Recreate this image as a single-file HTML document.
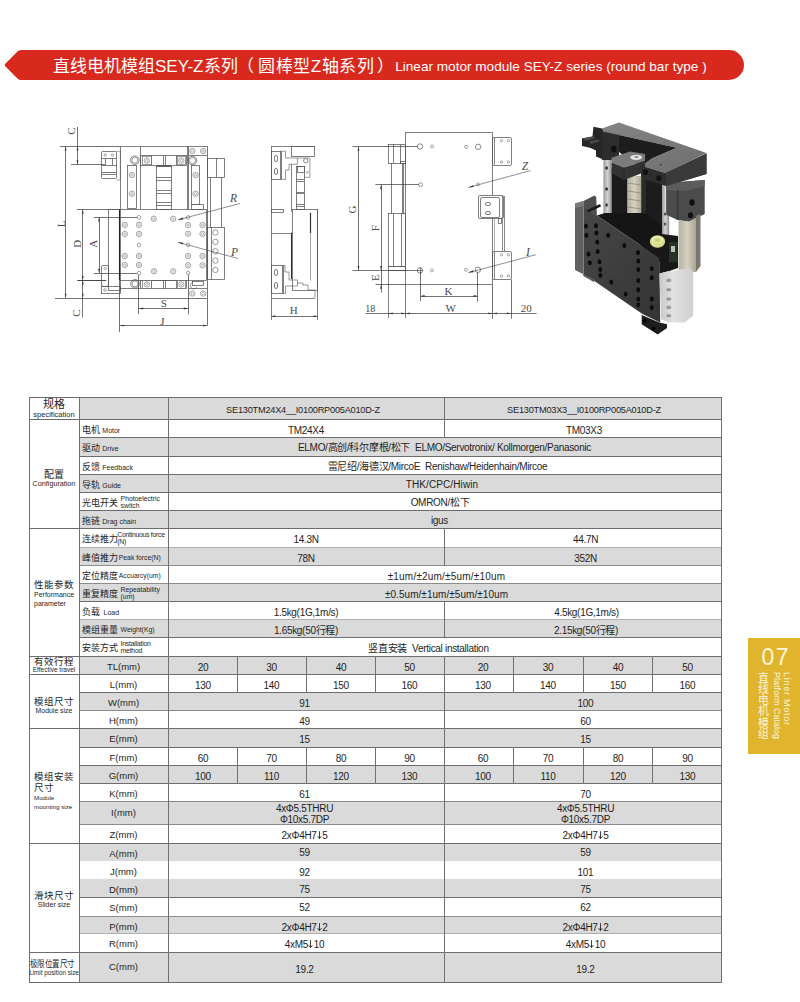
<!DOCTYPE html>
<html lang="zh-CN"><head><meta charset="utf-8"><title>SEY-Z</title>
<style>
html,body{margin:0;padding:0}
body{width:800px;height:1002px;overflow:hidden;background:#fff;position:relative;font-family:"Liberation Sans",sans-serif;color:#1e1e1e}
.a{position:absolute;white-space:nowrap}
.c{text-align:center}
.s{font-family:"Liberation Serif",serif}
</style></head><body>
<svg class="a" style="left:0;top:0" width="800" height="100" viewBox="0 0 800 100">
<path d="M21,50 H729 A15,15 0 0 1 729,80 H21 Q19,80 17.5,78.5 L5.5,66.5 Q4,65 5.5,63.5 L17.5,51.5 Q19,50 21,50 Z" fill="#d9281d"/>
</svg>
<div class="a" style="left:53px;top:56.5px;font-size:17px;line-height:20px;color:#fff">直线电机模组SEY-Z系列<span style="margin-left:-0.75px">（</span><span style="margin-left:4.25px;letter-spacing:0.55px">圆棒型Z轴系列</span><span style="margin-left:3px">）</span></div>
<div class="a" style="left:395.2px;top:59.3px;font-size:13.6px;line-height:16px;color:#fff">Linear motor module SEY-Z series (round bar type )</div>
<svg class="a" style="left:0;top:0" width="560" height="340" viewBox="0 0 560 340">
<line x1="77.5" y1="127" x2="77.5" y2="164.4" stroke="#444" stroke-width="0.75"/>
<polygon points="77.5,146.5 78.40,150.50 76.60,150.50" fill="#333"/>
<polygon points="77.5,164.2 76.60,160.20 78.40,160.20" fill="#333"/>
<line x1="60" y1="146.5" x2="120.6" y2="146.5" stroke="#444" stroke-width="0.75"/>
<line x1="71" y1="164.5" x2="105" y2="164.5" stroke="#444" stroke-width="0.75"/>
<line x1="65.5" y1="146.3" x2="65.5" y2="298.1" stroke="#444" stroke-width="0.75"/>
<polygon points="65.6,146.6 66.50,150.60 64.70,150.60" fill="#333"/>
<polygon points="65.6,297.8 64.70,293.80 66.50,293.80" fill="#333"/>
<line x1="82.5" y1="209.4" x2="82.5" y2="317.5" stroke="#444" stroke-width="0.75"/>
<polygon points="82.8,209.7 83.70,213.70 81.90,213.70" fill="#333"/>
<polygon points="82.8,280 81.90,276.00 83.70,276.00" fill="#333"/>
<polygon points="82.8,280.5 83.70,284.50 81.90,284.50" fill="#333"/>
<polygon points="82.8,297.8 81.90,293.80 83.70,293.80" fill="#333"/>
<line x1="76.9" y1="209.5" x2="108.8" y2="209.5" stroke="#444" stroke-width="0.75"/>
<line x1="77.2" y1="280.5" x2="106.3" y2="280.5" stroke="#333" stroke-width="0.9"/>
<line x1="99.5" y1="217.3" x2="99.5" y2="273.1" stroke="#444" stroke-width="0.75"/>
<polygon points="99,217.6 99.90,221.60 98.10,221.60" fill="#333"/>
<polygon points="99,272.8 98.10,268.80 99.90,268.80" fill="#333"/>
<line x1="93.8" y1="217.5" x2="137" y2="217.5" stroke="#444" stroke-width="0.75"/>
<line x1="93.8" y1="273.5" x2="137" y2="273.5" stroke="#444" stroke-width="0.75"/>
<line x1="55" y1="298.5" x2="207.3" y2="298.5" stroke="#444" stroke-width="0.75"/>
<line x1="119.5" y1="280" x2="119.5" y2="331.9" stroke="#444" stroke-width="0.75"/>
<line x1="207.5" y1="146.3" x2="207.5" y2="325.5" stroke="#444" stroke-width="0.75"/>
<line x1="119.8" y1="325.5" x2="207.3" y2="325.5" stroke="#444" stroke-width="0.75"/>
<polygon points="120.1,325.6 124.10,324.70 124.10,326.50" fill="#333"/>
<polygon points="207,325.6 203.00,326.50 203.00,324.70" fill="#333"/>
<line x1="138.5" y1="275" x2="138.5" y2="313.8" stroke="#444" stroke-width="0.75"/>
<line x1="188.5" y1="274.8" x2="188.5" y2="314.4" stroke="#444" stroke-width="0.75"/>
<line x1="138.8" y1="308.5" x2="188.1" y2="308.5" stroke="#444" stroke-width="0.75"/>
<polygon points="139.1,308.5 143.10,307.60 143.10,309.40" fill="#333"/>
<polygon points="187.8,308.5 183.80,309.40 183.80,307.60" fill="#333"/>
<text x="70.6" y="131" font-family="Liberation Serif, serif" font-size="11" fill="#4a4a4a" text-anchor="middle" dominant-baseline="central" style="" transform="rotate(-90 70.6 131)">C</text>
<text x="60.6" y="223.8" font-family="Liberation Serif, serif" font-size="11" fill="#4a4a4a" text-anchor="middle" dominant-baseline="central" style="" transform="rotate(-90 60.6 223.8)">L</text>
<text x="76.9" y="243.8" font-family="Liberation Serif, serif" font-size="11" fill="#4a4a4a" text-anchor="middle" dominant-baseline="central" style="" transform="rotate(-90 76.9 243.8)">D</text>
<text x="93.1" y="243.8" font-family="Liberation Serif, serif" font-size="11" fill="#4a4a4a" text-anchor="middle" dominant-baseline="central" style="" transform="rotate(-90 93.1 243.8)">A</text>
<text x="76.3" y="313.1" font-family="Liberation Serif, serif" font-size="11" fill="#4a4a4a" text-anchor="middle" dominant-baseline="central" style="" transform="rotate(-90 76.3 313.1)">C</text>
<text x="163.8" y="303.3" font-family="Liberation Serif, serif" font-size="11" fill="#4a4a4a" text-anchor="middle" dominant-baseline="central" style="">S</text>
<text x="162.5" y="320.5" font-family="Liberation Serif, serif" font-size="11" fill="#4a4a4a" text-anchor="middle" dominant-baseline="central" style="">J</text>
<text x="233.6" y="197.6" font-family="Liberation Serif, serif" font-size="11.5" fill="#4a4a4a" text-anchor="middle" dominant-baseline="central" style="font-style:italic;">R</text>
<text x="234.4" y="251.6" font-family="Liberation Serif, serif" font-size="11.5" fill="#4a4a4a" text-anchor="middle" dominant-baseline="central" style="font-style:italic;">P</text>
<line x1="178.1" y1="219.8" x2="240" y2="203.5" stroke="#444" stroke-width="0.6"/>
<polygon points="178.1,219.8 182.68,217.56 183.19,219.50" fill="#333"/>
<line x1="178.1" y1="242.3" x2="238.1" y2="258.5" stroke="#444" stroke-width="0.6"/>
<polygon points="178.1,242.3 183.19,242.64 182.67,244.57" fill="#333"/>
<line x1="120.6" y1="146.5" x2="207.3" y2="146.5" stroke="#555" stroke-width="0.75"/>
<line x1="120.5" y1="146.3" x2="120.5" y2="209.4" stroke="#555" stroke-width="0.75"/>
<line x1="140.5" y1="146.3" x2="140.5" y2="209.4" stroke="#555" stroke-width="0.75"/>
<line x1="187.5" y1="146.3" x2="187.5" y2="209.4" stroke="#555" stroke-width="0.75"/>
<line x1="188.5" y1="146.3" x2="188.5" y2="209.4" stroke="#555" stroke-width="0.75"/>
<line x1="188" y1="155.5" x2="207.3" y2="155.5" stroke="#555" stroke-width="0.75"/>
<circle cx="192.3" cy="151" r="2.7" fill="none" stroke="#6a6a6a" stroke-width="0.6"/>
<circle cx="192.3" cy="151" r="1.15" fill="none" stroke="#7a7a7a" stroke-width="0.5"/>
<circle cx="203.1" cy="151" r="2.7" fill="none" stroke="#6a6a6a" stroke-width="0.6"/>
<circle cx="203.1" cy="151" r="1.15" fill="none" stroke="#7a7a7a" stroke-width="0.5"/>
<rect x="140.5" y="155.5" width="46.00" height="10.00" rx="0" fill="none" stroke="#555" stroke-width="0.75"/>
<line x1="151.5" y1="155.6" x2="151.5" y2="165.6" stroke="#555" stroke-width="0.75"/>
<line x1="163.5" y1="155.6" x2="163.5" y2="165.6" stroke="#555" stroke-width="0.75"/>
<line x1="165.5" y1="155.6" x2="165.5" y2="165.6" stroke="#555" stroke-width="0.75"/>
<line x1="176.5" y1="155.6" x2="176.5" y2="165.6" stroke="#555" stroke-width="0.75"/>
<rect x="142.5" y="156.5" width="9.00" height="8.00" rx="0" fill="none" stroke="#777" stroke-width="0.75"/>
<circle cx="146.9" cy="160.6" r="2.7" fill="none" stroke="#6a6a6a" stroke-width="0.6"/>
<circle cx="146.9" cy="160.6" r="1.15" fill="none" stroke="#7a7a7a" stroke-width="0.5"/>
<rect x="177.5" y="156.5" width="8.00" height="8.00" rx="0" fill="none" stroke="#777" stroke-width="0.75"/>
<circle cx="181.3" cy="160.6" r="2.7" fill="none" stroke="#6a6a6a" stroke-width="0.6"/>
<circle cx="181.3" cy="160.6" r="1.15" fill="none" stroke="#7a7a7a" stroke-width="0.5"/>
<circle cx="134.8" cy="160.2" r="4.3" fill="none" stroke="#555" stroke-width="0.7"/>
<circle cx="134.8" cy="160.2" r="3" fill="none" stroke="#555" stroke-width="0.6"/>
<circle cx="192.5" cy="160.6" r="4.3" fill="none" stroke="#555" stroke-width="0.7"/>
<circle cx="192.5" cy="160.6" r="3" fill="none" stroke="#555" stroke-width="0.6"/>
<rect x="127.5" y="165.5" width="9.00" height="43.00" rx="0" fill="none" stroke="#555" stroke-width="0.75"/>
<circle cx="131.9" cy="175" r="2.7" fill="none" stroke="#6a6a6a" stroke-width="0.6"/>
<circle cx="131.9" cy="175" r="1.15" fill="none" stroke="#7a7a7a" stroke-width="0.5"/>
<circle cx="131.9" cy="193.8" r="2.7" fill="none" stroke="#6a6a6a" stroke-width="0.6"/>
<circle cx="131.9" cy="193.8" r="1.15" fill="none" stroke="#7a7a7a" stroke-width="0.5"/>
<rect x="191.5" y="165.5" width="8.00" height="39.00" rx="0" fill="none" stroke="#555" stroke-width="0.75"/>
<rect x="191.5" y="204.5" width="12.00" height="5.00" rx="0" fill="none" stroke="#555" stroke-width="0.75"/>
<circle cx="195.6" cy="175" r="2.7" fill="none" stroke="#6a6a6a" stroke-width="0.6"/>
<circle cx="195.6" cy="175" r="1.15" fill="none" stroke="#7a7a7a" stroke-width="0.5"/>
<circle cx="195.6" cy="193.8" r="2.7" fill="none" stroke="#6a6a6a" stroke-width="0.6"/>
<circle cx="195.6" cy="193.8" r="1.15" fill="none" stroke="#7a7a7a" stroke-width="0.5"/>
<rect x="156.5" y="166.5" width="15.00" height="43.00" rx="0" fill="none" stroke="#555" stroke-width="0.75"/>
<rect x="157.5" y="165.5" width="13.00" height="1.00" rx="0" fill="none" stroke="#555" stroke-width="0.75"/>
<line x1="156.3" y1="177.5" x2="171.5" y2="177.5" stroke="#555" stroke-width="0.75"/>
<line x1="156.3" y1="180.5" x2="171.5" y2="180.5" stroke="#555" stroke-width="0.75"/>
<line x1="156.3" y1="190.5" x2="171.5" y2="190.5" stroke="#555" stroke-width="0.75"/>
<line x1="156.3" y1="193.5" x2="171.5" y2="193.5" stroke="#555" stroke-width="0.75"/>
<line x1="156.3" y1="202.5" x2="171.5" y2="202.5" stroke="#555" stroke-width="0.75"/>
<line x1="156.3" y1="205.5" x2="171.5" y2="205.5" stroke="#555" stroke-width="0.75"/>
<rect x="101.5" y="151.5" width="15.00" height="27.00" rx="1" fill="none" stroke="#555" stroke-width="0.75"/>
<circle cx="105.2" cy="155" r="1.2" fill="none" stroke="#555" stroke-width="0.5"/>
<circle cx="112.4" cy="155" r="1.2" fill="none" stroke="#555" stroke-width="0.5"/>
<line x1="101.9" y1="158.5" x2="116.3" y2="158.5" stroke="#555" stroke-width="0.75"/>
<line x1="105.5" y1="158.5" x2="105.5" y2="165" stroke="#555" stroke-width="0.75"/>
<line x1="112.5" y1="158.5" x2="112.5" y2="165" stroke="#555" stroke-width="0.75"/>
<line x1="101.9" y1="165.5" x2="116.3" y2="165.5" stroke="#555" stroke-width="0.75"/>
<line x1="101.9" y1="172.5" x2="116.3" y2="172.5" stroke="#666" stroke-width="0.9"/>
<line x1="101.9" y1="174.5" x2="116.3" y2="174.5" stroke="#555" stroke-width="0.75"/>
<polyline points="116.3,151.3 120.3,151.3 120.3,180 116.3,180" fill="none" stroke="#555" stroke-width="0.5"/>
<rect x="207.5" y="158.5" width="17.00" height="19.00" rx="0" fill="none" stroke="#555" stroke-width="0.75"/>
<line x1="216.5" y1="158" x2="216.5" y2="177.5" stroke="#555" stroke-width="0.75"/>
<line x1="210.5" y1="177.5" x2="210.5" y2="227.5" stroke="#555" stroke-width="0.75"/>
<line x1="221.5" y1="177.5" x2="221.5" y2="227.5" stroke="#555" stroke-width="0.75"/>
<rect x="207.5" y="227.5" width="17.00" height="52.00" rx="0" fill="none" stroke="#555" stroke-width="0.75"/>
<line x1="211.5" y1="227" x2="211.5" y2="279.4" stroke="#555" stroke-width="0.75"/>
<circle cx="215.4" cy="232.5" r="2.7" fill="none" stroke="#555" stroke-width="0.6"/>
<circle cx="215.4" cy="241.9" r="2.7" fill="none" stroke="#555" stroke-width="0.6"/>
<circle cx="215.4" cy="251.3" r="2.7" fill="none" stroke="#555" stroke-width="0.6"/>
<circle cx="215.4" cy="260.6" r="2.7" fill="none" stroke="#555" stroke-width="0.6"/>
<circle cx="215.4" cy="270" r="2.7" fill="none" stroke="#555" stroke-width="0.6"/>
<line x1="108.8" y1="209.5" x2="206.3" y2="209.5" stroke="#555" stroke-width="0.75"/>
<line x1="206.5" y1="209.4" x2="206.5" y2="280.3" stroke="#555" stroke-width="0.75"/>
<line x1="119.5" y1="209.4" x2="119.5" y2="280" stroke="#222" stroke-width="1.1"/>
<rect x="108.5" y="209.5" width="12.00" height="81.00" rx="0" fill="none" stroke="#555" stroke-width="0.75"/>
<line x1="120" y1="280.5" x2="206.3" y2="280.5" stroke="#555" stroke-width="0.75"/>
<circle cx="124.8" cy="224.8" r="2.7" fill="none" stroke="#6a6a6a" stroke-width="0.6"/>
<circle cx="124.8" cy="224.8" r="1.15" fill="none" stroke="#7a7a7a" stroke-width="0.5"/>
<circle cx="139" cy="224.8" r="2.7" fill="none" stroke="#6a6a6a" stroke-width="0.6"/>
<circle cx="139" cy="224.8" r="1.15" fill="none" stroke="#7a7a7a" stroke-width="0.5"/>
<circle cx="124.8" cy="234" r="2.7" fill="none" stroke="#6a6a6a" stroke-width="0.6"/>
<circle cx="124.8" cy="234" r="1.15" fill="none" stroke="#7a7a7a" stroke-width="0.5"/>
<circle cx="139" cy="234" r="2.7" fill="none" stroke="#6a6a6a" stroke-width="0.6"/>
<circle cx="139" cy="234" r="1.15" fill="none" stroke="#7a7a7a" stroke-width="0.5"/>
<circle cx="124.8" cy="256" r="2.7" fill="none" stroke="#6a6a6a" stroke-width="0.6"/>
<circle cx="124.8" cy="256" r="1.15" fill="none" stroke="#7a7a7a" stroke-width="0.5"/>
<circle cx="139" cy="256" r="2.7" fill="none" stroke="#6a6a6a" stroke-width="0.6"/>
<circle cx="139" cy="256" r="1.15" fill="none" stroke="#7a7a7a" stroke-width="0.5"/>
<circle cx="124.8" cy="265" r="2.7" fill="none" stroke="#6a6a6a" stroke-width="0.6"/>
<circle cx="124.8" cy="265" r="1.15" fill="none" stroke="#7a7a7a" stroke-width="0.5"/>
<circle cx="139" cy="265" r="2.7" fill="none" stroke="#6a6a6a" stroke-width="0.6"/>
<circle cx="139" cy="265" r="1.15" fill="none" stroke="#7a7a7a" stroke-width="0.5"/>
<circle cx="153.8" cy="218.8" r="2.7" fill="none" stroke="#6a6a6a" stroke-width="0.6"/>
<circle cx="153.8" cy="218.8" r="1.15" fill="none" stroke="#7a7a7a" stroke-width="0.5"/>
<circle cx="173.1" cy="218.8" r="2.7" fill="none" stroke="#6a6a6a" stroke-width="0.6"/>
<circle cx="173.1" cy="218.8" r="1.15" fill="none" stroke="#7a7a7a" stroke-width="0.5"/>
<circle cx="188.1" cy="225" r="2.7" fill="none" stroke="#6a6a6a" stroke-width="0.6"/>
<circle cx="188.1" cy="225" r="1.15" fill="none" stroke="#7a7a7a" stroke-width="0.5"/>
<circle cx="202.5" cy="225" r="2.7" fill="none" stroke="#6a6a6a" stroke-width="0.6"/>
<circle cx="202.5" cy="225" r="1.15" fill="none" stroke="#7a7a7a" stroke-width="0.5"/>
<circle cx="188.1" cy="233.8" r="2.7" fill="none" stroke="#6a6a6a" stroke-width="0.6"/>
<circle cx="188.1" cy="233.8" r="1.15" fill="none" stroke="#7a7a7a" stroke-width="0.5"/>
<circle cx="202.5" cy="233.8" r="2.7" fill="none" stroke="#6a6a6a" stroke-width="0.6"/>
<circle cx="202.5" cy="233.8" r="1.15" fill="none" stroke="#7a7a7a" stroke-width="0.5"/>
<circle cx="188.1" cy="256" r="2.7" fill="none" stroke="#6a6a6a" stroke-width="0.6"/>
<circle cx="188.1" cy="256" r="1.15" fill="none" stroke="#7a7a7a" stroke-width="0.5"/>
<circle cx="202.5" cy="256" r="2.7" fill="none" stroke="#6a6a6a" stroke-width="0.6"/>
<circle cx="202.5" cy="256" r="1.15" fill="none" stroke="#7a7a7a" stroke-width="0.5"/>
<circle cx="188.1" cy="265.3" r="2.7" fill="none" stroke="#6a6a6a" stroke-width="0.6"/>
<circle cx="188.1" cy="265.3" r="1.15" fill="none" stroke="#7a7a7a" stroke-width="0.5"/>
<circle cx="202.5" cy="265.3" r="2.7" fill="none" stroke="#6a6a6a" stroke-width="0.6"/>
<circle cx="202.5" cy="265.3" r="1.15" fill="none" stroke="#7a7a7a" stroke-width="0.5"/>
<circle cx="154" cy="271.3" r="2.7" fill="none" stroke="#6a6a6a" stroke-width="0.6"/>
<circle cx="154" cy="271.3" r="1.15" fill="none" stroke="#7a7a7a" stroke-width="0.5"/>
<circle cx="173.1" cy="271.3" r="2.7" fill="none" stroke="#6a6a6a" stroke-width="0.6"/>
<circle cx="173.1" cy="271.3" r="1.15" fill="none" stroke="#7a7a7a" stroke-width="0.5"/>
<circle cx="139" cy="217.3" r="1.8" fill="none" stroke="#666" stroke-width="0.6"/>
<circle cx="139" cy="245" r="1.8" fill="none" stroke="#666" stroke-width="0.6"/>
<circle cx="139" cy="273.1" r="1.8" fill="none" stroke="#666" stroke-width="0.6"/>
<circle cx="188.1" cy="217.3" r="1.8" fill="none" stroke="#666" stroke-width="0.6"/>
<circle cx="188.1" cy="245" r="1.8" fill="none" stroke="#666" stroke-width="0.6"/>
<circle cx="188.1" cy="272.9" r="1.8" fill="none" stroke="#666" stroke-width="0.6"/>
<rect x="140.5" y="280.5" width="46.00" height="8.00" rx="0" fill="none" stroke="#555" stroke-width="0.75"/>
<line x1="151.5" y1="280.3" x2="151.5" y2="288.8" stroke="#555" stroke-width="0.75"/>
<line x1="163.5" y1="280.3" x2="163.5" y2="288.8" stroke="#555" stroke-width="0.75"/>
<line x1="165.5" y1="280.3" x2="165.5" y2="288.8" stroke="#555" stroke-width="0.75"/>
<line x1="176.5" y1="280.3" x2="176.5" y2="288.8" stroke="#555" stroke-width="0.75"/>
<rect x="142.5" y="280.5" width="9.00" height="8.00" rx="0" fill="none" stroke="#777" stroke-width="0.75"/>
<circle cx="146.9" cy="284.4" r="2.7" fill="none" stroke="#6a6a6a" stroke-width="0.6"/>
<circle cx="146.9" cy="284.4" r="1.15" fill="none" stroke="#7a7a7a" stroke-width="0.5"/>
<rect x="177.5" y="280.5" width="8.00" height="8.00" rx="0" fill="none" stroke="#777" stroke-width="0.75"/>
<circle cx="181.3" cy="284.4" r="2.7" fill="none" stroke="#6a6a6a" stroke-width="0.6"/>
<circle cx="181.3" cy="284.4" r="1.15" fill="none" stroke="#7a7a7a" stroke-width="0.5"/>
<circle cx="135" cy="283.8" r="4.3" fill="none" stroke="#555" stroke-width="0.7"/>
<circle cx="135" cy="283.8" r="3" fill="none" stroke="#555" stroke-width="0.6"/>
<rect x="192.5" y="281.5" width="11.00" height="4.00" rx="0" fill="none" stroke="#555" stroke-width="0.75"/>
<path d="M193,282 a3.5,3.5 0 1 0 4,5" fill="none" stroke="#555" stroke-width="0.6"/>
<line x1="188" y1="288.5" x2="207.3" y2="288.5" stroke="#555" stroke-width="0.75"/>
<circle cx="192.3" cy="293.5" r="2.7" fill="none" stroke="#6a6a6a" stroke-width="0.6"/>
<circle cx="192.3" cy="293.5" r="1.15" fill="none" stroke="#7a7a7a" stroke-width="0.5"/>
<circle cx="203.1" cy="293.5" r="2.7" fill="none" stroke="#6a6a6a" stroke-width="0.6"/>
<circle cx="203.1" cy="293.5" r="1.15" fill="none" stroke="#7a7a7a" stroke-width="0.5"/>
<rect x="101.5" y="286.5" width="19.00" height="7.00" rx="0" fill="none" stroke="#555" stroke-width="0.75"/>
<circle cx="105" cy="290" r="1.3" fill="none" stroke="#555" stroke-width="0.5"/>
<rect x="101.5" y="265.5" width="7.00" height="21.00" rx="1.5" fill="none" stroke="#555" stroke-width="0.75"/>
<circle cx="105.3" cy="268.5" r="1.2" fill="none" stroke="#555" stroke-width="0.5"/>
<line x1="120" y1="288.5" x2="140.6" y2="288.5" stroke="#555" stroke-width="0.75"/>
<line x1="271.5" y1="146.3" x2="271.5" y2="320" stroke="#555" stroke-width="0.75"/>
<line x1="271.2" y1="146.5" x2="314.8" y2="146.5" stroke="#555" stroke-width="0.75"/>
<rect x="291.5" y="146.5" width="23.00" height="10.00" rx="0" fill="none" stroke="#555" stroke-width="0.75"/>
<rect x="271.5" y="151.5" width="9.00" height="28.00" rx="0" fill="none" stroke="#555" stroke-width="0.75"/>
<rect x="274.5" y="155.5" width="3.00" height="6.00" rx="1.5" fill="none" stroke="#555" stroke-width="0.75"/>
<rect x="274.5" y="168.5" width="3.00" height="6.00" rx="1.5" fill="none" stroke="#555" stroke-width="0.75"/>
<polyline points="280.2,151.2 285.5,151.2 285.5,158 297.4,158 297.4,164.3 289,164.3 289,170 285.5,170 285.5,179.5 280.2,179.5" fill="none" stroke="#555" stroke-width="0.6"/>
<line x1="281.5" y1="151.2" x2="281.5" y2="179.5" stroke="#555" stroke-width="0.75"/>
<line x1="291.5" y1="164.3" x2="291.5" y2="211.9" stroke="#555" stroke-width="0.75"/>
<rect x="296.5" y="166.5" width="8.00" height="43.00" rx="0" fill="none" stroke="#555" stroke-width="0.75"/>
<line x1="296.4" y1="179.5" x2="304" y2="179.5" stroke="#555" stroke-width="0.75"/>
<line x1="296.4" y1="181.5" x2="304" y2="181.5" stroke="#555" stroke-width="0.75"/>
<line x1="296.4" y1="192.5" x2="304" y2="192.5" stroke="#555" stroke-width="0.75"/>
<line x1="296.4" y1="193.5" x2="304" y2="193.5" stroke="#555" stroke-width="0.75"/>
<line x1="296.4" y1="204.5" x2="304" y2="204.5" stroke="#555" stroke-width="0.75"/>
<line x1="296.4" y1="206.5" x2="304" y2="206.5" stroke="#555" stroke-width="0.75"/>
<polyline points="297.4,158 309.9,158 309.9,177.3 304,177.3" fill="none" stroke="#555" stroke-width="0.6"/>
<circle cx="305.8" cy="160.7" r="2.2" fill="none" stroke="#555" stroke-width="0.7"/>
<circle cx="307.4" cy="172.4" r="1" fill="none" stroke="#555" stroke-width="0.5"/>
<rect x="297.5" y="166.5" width="7.00" height="6.00" rx="0" fill="none" stroke="#555" stroke-width="0.75"/>
<rect x="292.5" y="209.5" width="25.00" height="81.00" rx="0" fill="none" stroke="#555" stroke-width="0.75"/>
<line x1="310.5" y1="212.8" x2="310.5" y2="233" stroke="#333" stroke-width="1.2"/>
<line x1="310.5" y1="233" x2="310.5" y2="280.5" stroke="#888" stroke-width="0.75"/>
<rect x="271.5" y="209.5" width="12.00" height="3.00" rx="0" fill="none" stroke="#555" stroke-width="0.75"/>
<line x1="291.5" y1="232.5" x2="291.5" y2="279" stroke="#333" stroke-width="1.1"/>
<line x1="271.2" y1="233.5" x2="291.8" y2="233.5" stroke="#555" stroke-width="0.75"/>
<rect x="271.5" y="265.5" width="11.00" height="28.00" rx="0" fill="none" stroke="#555" stroke-width="0.75"/>
<rect x="274.5" y="269.5" width="3.00" height="6.00" rx="1.5" fill="none" stroke="#555" stroke-width="0.75"/>
<rect x="274.5" y="282.5" width="3.00" height="6.00" rx="1.5" fill="none" stroke="#555" stroke-width="0.75"/>
<polyline points="282.2,265.5 285,265.5 285,272 289,272 289,280 297.5,280 297.5,286 285.5,286 285.5,293.5 282.2,293.5" fill="none" stroke="#555" stroke-width="0.6"/>
<line x1="283.5" y1="265.5" x2="283.5" y2="293.5" stroke="#555" stroke-width="0.75"/>
<polyline points="297.5,283 303,283 303,285 308,285 308,290 315,290 315,298.5" fill="none" stroke="#555" stroke-width="0.6"/>
<line x1="271.2" y1="298.5" x2="314.8" y2="298.5" stroke="#555" stroke-width="0.75"/>
<line x1="317.5" y1="209" x2="317.5" y2="320" stroke="#555" stroke-width="0.75"/>
<line x1="271.2" y1="316.5" x2="317.8" y2="316.5" stroke="#444" stroke-width="0.75"/>
<polygon points="271.5,316.2 275.50,315.30 275.50,317.10" fill="#333"/>
<polygon points="317.5,316.2 313.50,317.10 313.50,315.30" fill="#333"/>
<text x="293.8" y="310.3" font-family="Liberation Serif, serif" font-size="11" fill="#4a4a4a" text-anchor="middle" dominant-baseline="central" style="">H</text>
<rect x="405.5" y="132.5" width="87.00" height="152.00" rx="0" fill="none" stroke="#555" stroke-width="0.75"/>
<rect x="388.5" y="144.5" width="17.00" height="19.00" rx="0" fill="none" stroke="#555" stroke-width="0.75"/>
<line x1="393.5" y1="144.4" x2="393.5" y2="163.1" stroke="#555" stroke-width="0.75"/>
<line x1="400.5" y1="144.4" x2="400.5" y2="163.1" stroke="#555" stroke-width="0.75"/>
<rect x="400.5" y="161.5" width="5.00" height="2.00" rx="0" fill="none" stroke="#555" stroke-width="0.75"/>
<line x1="391.5" y1="163.1" x2="391.5" y2="213.8" stroke="#555" stroke-width="0.75"/>
<line x1="402.5" y1="163.1" x2="402.5" y2="213.8" stroke="#555" stroke-width="0.75"/>
<line x1="403.5" y1="163.1" x2="403.5" y2="213.8" stroke="#555" stroke-width="0.75"/>
<rect x="388.5" y="213.5" width="17.00" height="53.00" rx="0" fill="none" stroke="#555" stroke-width="0.75"/>
<line x1="393.5" y1="213.8" x2="393.5" y2="266.3" stroke="#555" stroke-width="0.75"/>
<line x1="401.5" y1="213.8" x2="401.5" y2="266.3" stroke="#555" stroke-width="0.75"/>
<rect x="388.5" y="266.5" width="17.00" height="4.00" rx="0" fill="none" stroke="#555" stroke-width="0.75"/>
<line x1="388.5" y1="270.4" x2="388.5" y2="318" stroke="#555" stroke-width="0.75"/>
<line x1="405.5" y1="284.3" x2="405.5" y2="318" stroke="#555" stroke-width="0.75"/>
<line x1="352.5" y1="146.5" x2="418" y2="146.5" stroke="#444" stroke-width="0.75"/>
<line x1="352.5" y1="270.5" x2="418" y2="270.5" stroke="#444" stroke-width="0.75"/>
<line x1="358.5" y1="146.5" x2="358.5" y2="270.4" stroke="#444" stroke-width="0.75"/>
<polygon points="358.5,146.8 359.40,150.80 357.60,150.80" fill="#333"/>
<polygon points="358.5,270.1 357.60,266.10 359.40,266.10" fill="#333"/>
<text x="351.9" y="209.4" font-family="Liberation Serif, serif" font-size="11" fill="#4a4a4a" text-anchor="middle" dominant-baseline="central" style="" transform="rotate(-90 351.9 209.4)">G</text>
<line x1="375.4" y1="184.5" x2="419" y2="184.5" stroke="#444" stroke-width="0.75"/>
<line x1="381.5" y1="184.6" x2="381.5" y2="292.5" stroke="#444" stroke-width="0.75"/>
<polygon points="381,184.9 381.90,188.90 380.10,188.90" fill="#333"/>
<polygon points="381,270.1 380.10,266.10 381.90,266.10" fill="#333"/>
<polygon points="381,284.7 381.90,288.70 380.10,288.70" fill="#333"/>
<text x="375" y="228.1" font-family="Liberation Serif, serif" font-size="11" fill="#4a4a4a" text-anchor="middle" dominant-baseline="central" style="" transform="rotate(-90 375 228.1)">F</text>
<text x="375" y="277.5" font-family="Liberation Serif, serif" font-size="11" fill="#4a4a4a" text-anchor="middle" dominant-baseline="central" style="" transform="rotate(-90 375 277.5)">E</text>
<line x1="375.6" y1="284.5" x2="405.6" y2="284.5" stroke="#444" stroke-width="0.75"/>
<circle cx="420" cy="146.5" r="2.7" fill="none" stroke="#555" stroke-width="0.7"/>
<circle cx="432.1" cy="146.5" r="1.5" fill="none" stroke="#666" stroke-width="0.6"/>
<circle cx="420.6" cy="184.6" r="2" fill="none" stroke="#555" stroke-width="0.6"/>
<circle cx="466" cy="146.8" r="1.5" fill="none" stroke="#666" stroke-width="0.6"/>
<circle cx="478.1" cy="146.8" r="2.7" fill="none" stroke="#555" stroke-width="0.7"/>
<circle cx="420" cy="270.4" r="2.7" fill="none" stroke="#555" stroke-width="0.7"/>
<circle cx="431.9" cy="270.4" r="1.5" fill="none" stroke="#666" stroke-width="0.6"/>
<circle cx="466" cy="269.8" r="1.5" fill="none" stroke="#666" stroke-width="0.6"/>
<circle cx="477.9" cy="269.8" r="2.7" fill="none" stroke="#555" stroke-width="0.7"/>
<line x1="417" y1="270.5" x2="423" y2="270.5" stroke="#555" stroke-width="0.75"/>
<line x1="420.5" y1="267.4" x2="420.5" y2="273.4" stroke="#555" stroke-width="0.75"/>
<line x1="420.5" y1="272" x2="420.5" y2="301" stroke="#444" stroke-width="0.75"/>
<line x1="477.5" y1="272.5" x2="477.5" y2="301.5" stroke="#444" stroke-width="0.75"/>
<line x1="420.3" y1="296.5" x2="477.9" y2="296.5" stroke="#444" stroke-width="0.75"/>
<polygon points="420.6,296 424.60,295.10 424.60,296.90" fill="#333"/>
<polygon points="477.6,296 473.60,296.90 473.60,295.10" fill="#333"/>
<text x="448.6" y="290.5" font-family="Liberation Serif, serif" font-size="11" fill="#4a4a4a" text-anchor="middle" dominant-baseline="central" style="">K</text>
<line x1="365.6" y1="313.5" x2="536.6" y2="313.5" stroke="#444" stroke-width="0.75"/>
<line x1="492.5" y1="284.3" x2="492.5" y2="318.7" stroke="#444" stroke-width="0.75"/>
<line x1="511.5" y1="279.5" x2="511.5" y2="318.7" stroke="#444" stroke-width="0.75"/>
<polygon points="388.8,313.4 392.80,312.50 392.80,314.30" fill="#333"/>
<polygon points="405.3,313.4 401.30,314.30 401.30,312.50" fill="#333"/>
<polygon points="405.9,313.4 409.90,312.50 409.90,314.30" fill="#333"/>
<polygon points="492.3,313.4 488.30,314.30 488.30,312.50" fill="#333"/>
<polygon points="492.9,313.4 496.90,312.50 496.90,314.30" fill="#333"/>
<polygon points="510.9,313.4 506.90,314.30 506.90,312.50" fill="#333"/>
<text x="450.6" y="307.7" font-family="Liberation Serif, serif" font-size="11" fill="#4a4a4a" text-anchor="middle" dominant-baseline="central" style="">W</text>
<text x="370.3" y="308.2" font-family="Liberation Serif, serif" font-size="10" fill="#4a4a4a" text-anchor="middle" dominant-baseline="central" style="">18</text>
<text x="526.3" y="307.7" font-family="Liberation Serif, serif" font-size="11" fill="#4a4a4a" text-anchor="middle" dominant-baseline="central" style="">20</text>
<rect x="492.5" y="137.5" width="19.00" height="28.00" rx="1.5" fill="none" stroke="#555" stroke-width="0.75"/>
<line x1="494.5" y1="138" x2="494.5" y2="164.6" stroke="#777" stroke-width="0.9"/>
<circle cx="501.5" cy="140.6" r="1.2" fill="none" stroke="#555" stroke-width="0.5"/>
<circle cx="508.4" cy="140.6" r="1.2" fill="none" stroke="#555" stroke-width="0.5"/>
<circle cx="501.5" cy="162" r="1.2" fill="none" stroke="#555" stroke-width="0.5"/>
<circle cx="508.4" cy="162" r="1.2" fill="none" stroke="#555" stroke-width="0.5"/>
<rect x="478.5" y="195.5" width="25.00" height="23.00" rx="1.5" fill="#fff" stroke="#555" stroke-width="0.75"/>
<rect x="480.5" y="197.5" width="19.00" height="20.00" rx="1.5" fill="none" stroke="#555" stroke-width="0.75"/>
<rect x="485.5" y="202.5" width="5.00" height="3.00" rx="1.5" fill="none" stroke="#555" stroke-width="0.75"/>
<rect x="485.5" y="211.5" width="5.00" height="3.00" rx="1.5" fill="none" stroke="#555" stroke-width="0.75"/>
<line x1="494.5" y1="218.3" x2="494.5" y2="251.3" stroke="#999" stroke-width="0.75"/>
<line x1="502.5" y1="196" x2="502.5" y2="251.3" stroke="#666" stroke-width="0.75"/>
<line x1="504.5" y1="196" x2="504.5" y2="251.3" stroke="#666" stroke-width="0.75"/>
<rect x="498.5" y="218.5" width="3.00" height="5.00" rx="0" fill="none" stroke="#555" stroke-width="0.75"/>
<rect x="492.5" y="251.5" width="19.00" height="28.00" rx="1.5" fill="none" stroke="#555" stroke-width="0.75"/>
<line x1="494.5" y1="252" x2="494.5" y2="278.8" stroke="#777" stroke-width="0.9"/>
<circle cx="501.5" cy="254.7" r="1.2" fill="none" stroke="#555" stroke-width="0.5"/>
<circle cx="508.4" cy="254.7" r="1.2" fill="none" stroke="#555" stroke-width="0.5"/>
<circle cx="501.5" cy="276" r="1.2" fill="none" stroke="#555" stroke-width="0.5"/>
<circle cx="508.4" cy="276" r="1.2" fill="none" stroke="#555" stroke-width="0.5"/>
<line x1="468.5" y1="187.4" x2="530.4" y2="170.6" stroke="#444" stroke-width="0.6"/>
<polygon points="468.5,187.4 473.06,185.13 473.59,187.06" fill="#333"/>
<circle cx="478.1" cy="184.4" r="1.4" fill="none" stroke="#666" stroke-width="0.6"/>
<text x="525" y="166" font-family="Liberation Serif, serif" font-size="11.5" fill="#4a4a4a" text-anchor="middle" dominant-baseline="central" style="font-style:italic;">Z</text>
<line x1="468.5" y1="272.6" x2="535.9" y2="254.7" stroke="#444" stroke-width="0.6"/>
<polygon points="468.5,272.6 473.07,270.34 473.59,272.28" fill="#333"/>
<text x="528" y="251.5" font-family="Liberation Serif, serif" font-size="11.5" fill="#4a4a4a" text-anchor="middle" dominant-baseline="central" style="font-style:italic;">I</text>
</svg>
<svg class="a" style="left:0;top:0" width="720" height="340" viewBox="0 0 720 340">
<defs>
<linearGradient id="gTop" x1="0" y1="0" x2="1" y2="1"><stop offset="0" stop-color="#858585"/><stop offset="1" stop-color="#6e6e6e"/></linearGradient>
<linearGradient id="gPlate" x1="0" y1="0" x2="1" y2="1"><stop offset="0" stop-color="#474747"/><stop offset="1" stop-color="#343434"/></linearGradient>
<linearGradient id="gRod" x1="0" y1="0" x2="1" y2="0"><stop offset="0" stop-color="#b8b2a2"/><stop offset="0.5" stop-color="#d6d0c0"/><stop offset="1" stop-color="#a9a394"/></linearGradient>
<linearGradient id="gBr" x1="0" y1="0" x2="1" y2="0"><stop offset="0" stop-color="#c9c9c9"/><stop offset="0.4" stop-color="#e2e2e2"/><stop offset="1" stop-color="#d0d0d0"/></linearGradient>
<linearGradient id="gRail" x1="0" y1="0" x2="1" y2="0"><stop offset="0" stop-color="#9a9a9a"/><stop offset="0.5" stop-color="#d4d4d4"/><stop offset="1" stop-color="#8c8c8c"/></linearGradient>
</defs>
<polygon points="641,172 666,184 666,236 660,262 641,248" fill="#1c1c1c" />
<rect x="603.4" y="156" width="8.399999999999977" height="58" fill="url(#gRail)"/>
<ellipse cx="606.6" cy="168" rx="1.4" ry="1.8" fill="#333"/>
<ellipse cx="606.6" cy="189" rx="1.4" ry="1.8" fill="#333"/>
<ellipse cx="606.6" cy="205" rx="1.4" ry="1.8" fill="#444"/>
<rect x="611.7" y="168" width="15.899999999999977" height="49" fill="#1b1b1b"/>
<rect x="627.5" y="176" width="14.100000000000023" height="40" fill="url(#gRod)"/>
<line x1="627.5" y1="183" x2="641.6" y2="185" stroke="#8d887a" stroke-width="0.8"/>
<line x1="627.5" y1="191" x2="641.6" y2="193" stroke="#8d887a" stroke-width="0.8"/>
<line x1="627.5" y1="199" x2="641.6" y2="201" stroke="#8d887a" stroke-width="0.8"/>
<line x1="627.5" y1="207" x2="641.6" y2="209" stroke="#8d887a" stroke-width="0.8"/>
<ellipse cx="634.5" cy="216" rx="8.5" ry="2.8" fill="#9a9a9a"/>
<ellipse cx="634.5" cy="215.2" rx="7" ry="1.8" fill="#2a2a2a"/>
<rect x="641.5" y="176" width="4.5" height="40" fill="#2a2a2a"/>
<rect x="662" y="183" width="7.2000000000000455" height="53" fill="url(#gRail)"/>
<ellipse cx="665" cy="214" rx="1.3" ry="1.6" fill="#555"/>
<ellipse cx="665" cy="224" rx="1.3" ry="1.6" fill="#555"/>
<polygon points="666.2,186 680,182 704.7,180 704.7,213.9 689,221.7 677.6,220 666.2,214.7" fill="#4b4b4b" />
<polygon points="666.2,186 680,182 704.7,180 704.7,186 690,190 678,191 666.2,190" fill="#5c5c5c" />
<line x1="677.8" y1="190" x2="677.8" y2="220" stroke="#2a2a2a" stroke-width="0.8"/>
<ellipse cx="692" cy="202.5" rx="2.6" ry="3.2" fill="#111"/>
<ellipse cx="690.5" cy="215.2" rx="2.6" ry="3" fill="#111"/>
<polygon points="678.5,220 689,221.7 696,218 696,272 678.5,272" fill="url(#gRod)" />
<polygon points="696,216 700.5,213.5 700.5,266 696,272" fill="#7c776c" />
<polygon points="602,129 619,123 619,157 611,160 602,160" fill="#2d2d2d" />
<ellipse cx="613.9" cy="149" rx="2.8" ry="3.6" fill="#111"/>
<polygon points="602,128.5 619,122.5 706.5,153 665.4,173.1 641.7,165.7 652.2,158.2 676.7,147.7 619,135 603,131.5" fill="url(#gTop)" />
<polygon points="619,135 676.7,147.7 652.2,158.2 641.7,165.7 632,162 619,152" fill="#1d1d1d" />
<polygon points="611.7,157.8 630,151.5 645,154 645,161 624,167.5 611.7,162.5" fill="#7c7c7c" />
<polygon points="611.7,162.5 624,167.5 645,161 645,172 624,180 611.7,173" fill="#333333" />
<line x1="624" y1="167.5" x2="624" y2="180" stroke="#262626" stroke-width="0.8"/>
<ellipse cx="636.2" cy="157.3" rx="5.8" ry="2.6" fill="#e6e6e6"/>
<ellipse cx="636.4" cy="157" rx="2.2" ry="1" fill="#8a8a8a"/>
<polygon points="641.7,165.7 665.4,173.1 706.5,153.4 706.5,174 666,186 641.7,178.5" fill="#2e2e2e" />
<polygon points="665.4,173.1 706.5,153.4 706.5,174 666,186" fill="#3a3a3a" />
<ellipse cx="645.4" cy="172.2" rx="2.6" ry="2.9" fill="#111"/>
<ellipse cx="658.8" cy="178.2" rx="2.6" ry="2.9" fill="#111"/>
<ellipse cx="660.6" cy="164.8" rx="1" ry="0.8" fill="#333"/>
<polygon points="582,138.6 592.5,136.4 593.4,126.7 602.1,128.5 602.1,159.1 596,156.5 596,150.4 589.9,147.7 582,146" fill="#262626" />
<polygon points="582,138.6 592.5,136.4 596,138 586,141" fill="#4a4a4a" />
<polygon points="589,141.5 598,139.5 600,141 591,144" fill="#4a4a4a" />
<polygon points="596.9,215.6 605,213 645,213 662,226 662,262 659.4,258" fill="#151515" />
<polygon points="583.5,206 596.9,215.6 659.4,258 660.2,322.6 642.5,314 593.6,280.4 583.5,276" fill="url(#gPlate)" />
<polygon points="583.5,201 594.5,195.5 596.2,197 596.9,215.6 583.5,207" fill="#4d4d4d" />
<polygon points="587,210 600,204 601,206.5 588,212.5" fill="#1a1a1a" />
<polygon points="575,203.4 583.5,201 583.5,276 594,282.2 594,279.5 580,272.5 575,270" fill="#616161" />
<polygon points="575,203.4 583.5,201 583.5,206 575,208" fill="#7a7a7a" />
<ellipse cx="586" cy="226.1" rx="2.0" ry="2.5" fill="#0d0d0d"/>
<ellipse cx="596" cy="225.7" rx="2.0" ry="2.5" fill="#0d0d0d"/>
<ellipse cx="586.4" cy="235.3" rx="2.0" ry="2.5" fill="#0d0d0d"/>
<ellipse cx="596.4" cy="233.1" rx="2.0" ry="2.5" fill="#0d0d0d"/>
<ellipse cx="608.2" cy="235.3" rx="2.0" ry="2.5" fill="#0d0d0d"/>
<ellipse cx="597.3" cy="241.9" rx="2.0" ry="2.5" fill="#0d0d0d"/>
<ellipse cx="624.4" cy="245.4" rx="2.0" ry="2.5" fill="#0d0d0d"/>
<ellipse cx="597.7" cy="251.5" rx="2.0" ry="2.5" fill="#0d0d0d"/>
<ellipse cx="638" cy="252.4" rx="2.0" ry="2.5" fill="#0d0d0d"/>
<ellipse cx="588.5" cy="254" rx="2.0" ry="2.5" fill="#0d0d0d"/>
<ellipse cx="589.8" cy="262.7" rx="2.0" ry="2.5" fill="#0d0d0d"/>
<ellipse cx="599.5" cy="261.8" rx="2.0" ry="2.5" fill="#0d0d0d"/>
<ellipse cx="600.3" cy="269.4" rx="2.0" ry="2.5" fill="#0d0d0d"/>
<ellipse cx="600.3" cy="275.3" rx="2.0" ry="2.5" fill="#0d0d0d"/>
<ellipse cx="611.3" cy="282" rx="2.0" ry="2.5" fill="#0d0d0d"/>
<ellipse cx="625.6" cy="293.9" rx="2.0" ry="2.5" fill="#0d0d0d"/>
<ellipse cx="638.3" cy="261" rx="2.0" ry="2.5" fill="#0d0d0d"/>
<ellipse cx="638.3" cy="269.4" rx="2.0" ry="2.5" fill="#0d0d0d"/>
<ellipse cx="638.3" cy="280.4" rx="2.0" ry="2.5" fill="#0d0d0d"/>
<ellipse cx="638.3" cy="289.7" rx="2.0" ry="2.5" fill="#0d0d0d"/>
<ellipse cx="638.3" cy="299" rx="2.0" ry="2.5" fill="#0d0d0d"/>
<ellipse cx="638.3" cy="304.8" rx="2.0" ry="2.5" fill="#0d0d0d"/>
<ellipse cx="651.8" cy="268.6" rx="2.0" ry="2.5" fill="#0d0d0d"/>
<ellipse cx="651.8" cy="277.8" rx="2.0" ry="2.5" fill="#0d0d0d"/>
<ellipse cx="651.8" cy="299" rx="2.0" ry="2.5" fill="#0d0d0d"/>
<ellipse cx="651.8" cy="307.4" rx="2.0" ry="2.5" fill="#0d0d0d"/>
<polygon points="645,248 662,234 678,236 678,268 669.5,271 659.4,273.6 659.4,258" fill="#181818" />
<rect x="669" y="242" width="8.5" height="20" fill="#263426"/>
<rect x="671" y="246" width="4" height="6" fill="#b8c0b8"/>
<ellipse cx="657.5" cy="241.5" rx="7.6" ry="6.2" fill="#d9df8e"/>
<ellipse cx="657.5" cy="239.5" rx="5.6" ry="3.6" fill="#e8ecaa"/>
<ellipse cx="657.5" cy="240" rx="3" ry="1.8" fill="#c8d070"/>
<polygon points="659.4,273.6 669.5,271 689.7,268.6 693.1,271 693.1,315.8 684.7,322.6 669.5,322.6 661.1,319.2" fill="url(#gBr)" />
<ellipse cx="668.7" cy="280.4" rx="2.6" ry="1.8" fill="#9c9c9c"/>
<ellipse cx="668.7" cy="289.7" rx="2.6" ry="1.8" fill="#9c9c9c"/>
<ellipse cx="668.7" cy="299" rx="2.6" ry="1.8" fill="#9c9c9c"/>
<ellipse cx="668.7" cy="307.4" rx="2.6" ry="1.8" fill="#9c9c9c"/>
<ellipse cx="668.7" cy="315.8" rx="2.6" ry="1.8" fill="#9c9c9c"/>
<polygon points="641.7,315 659.4,322.6 667,324.2 667,328 657.7,334.4 641.7,324.2" fill="#1e1e1e" />
<ellipse cx="644.6" cy="320.9" rx="1.8" ry="1.8" fill="#000"/>
<ellipse cx="653.5" cy="328.5" rx="1.8" ry="1.8" fill="#000"/>
</svg>
<div class="a" style="left:79px;top:397px;width:642px;height:22px;background:#dadada"></div>
<div class="a" style="left:79px;top:437px;width:642px;height:19px;background:#dadada"></div>
<div class="a" style="left:79px;top:474px;width:642px;height:18px;background:#dadada"></div>
<div class="a" style="left:79px;top:510px;width:642px;height:18px;background:#dadada"></div>
<div class="a" style="left:79px;top:547px;width:642px;height:18px;background:#dadada"></div>
<div class="a" style="left:79px;top:583px;width:642px;height:18px;background:#dadada"></div>
<div class="a" style="left:79px;top:619px;width:642px;height:18px;background:#dadada"></div>
<div class="a" style="left:79px;top:656px;width:642px;height:18px;background:#dadada"></div>
<div class="a" style="left:79px;top:692px;width:642px;height:18px;background:#dadada"></div>
<div class="a" style="left:79px;top:728px;width:642px;height:19px;background:#dadada"></div>
<div class="a" style="left:79px;top:765px;width:642px;height:18px;background:#dadada"></div>
<div class="a" style="left:79px;top:801px;width:642px;height:23px;background:#dadada"></div>
<div class="a" style="left:79px;top:843px;width:642px;height:18px;background:#dadada"></div>
<div class="a" style="left:79px;top:879px;width:642px;height:18px;background:#dadada"></div>
<div class="a" style="left:79px;top:916px;width:642px;height:17px;background:#dadada"></div>
<div class="a" style="left:79px;top:952px;width:642px;height:30px;background:#dadada"></div>
<div class="a" style="left:29px;top:397px;width:693px;height:1px;background:#6c6c6c"></div>
<div class="a" style="left:29px;top:419px;width:693px;height:1px;background:#6c6c6c"></div>
<div class="a" style="left:79px;top:437px;width:643px;height:1px;background:#6c6c6c"></div>
<div class="a" style="left:79px;top:456px;width:643px;height:1px;background:#6c6c6c"></div>
<div class="a" style="left:79px;top:474px;width:643px;height:1px;background:#6c6c6c"></div>
<div class="a" style="left:79px;top:492px;width:643px;height:1px;background:#6c6c6c"></div>
<div class="a" style="left:79px;top:510px;width:643px;height:1px;background:#6c6c6c"></div>
<div class="a" style="left:29px;top:528px;width:693px;height:1px;background:#6c6c6c"></div>
<div class="a" style="left:79px;top:547px;width:643px;height:1px;background:#b0b0b0"></div>
<div class="a" style="left:79px;top:565px;width:643px;height:1px;background:#8c8c8c"></div>
<div class="a" style="left:79px;top:583px;width:643px;height:1px;background:#8c8c8c"></div>
<div class="a" style="left:79px;top:601px;width:643px;height:1px;background:#6c6c6c"></div>
<div class="a" style="left:79px;top:619px;width:643px;height:1px;background:#b0b0b0"></div>
<div class="a" style="left:79px;top:637px;width:643px;height:1px;background:#6c6c6c"></div>
<div class="a" style="left:29px;top:656px;width:693px;height:1px;background:#6c6c6c"></div>
<div class="a" style="left:29px;top:674px;width:693px;height:1px;background:#6c6c6c"></div>
<div class="a" style="left:79px;top:692px;width:643px;height:1px;background:#6c6c6c"></div>
<div class="a" style="left:79px;top:710px;width:643px;height:1px;background:#8c8c8c"></div>
<div class="a" style="left:29px;top:728px;width:693px;height:1px;background:#6c6c6c"></div>
<div class="a" style="left:79px;top:747px;width:643px;height:1px;background:#6c6c6c"></div>
<div class="a" style="left:79px;top:765px;width:643px;height:1px;background:#6c6c6c"></div>
<div class="a" style="left:79px;top:783px;width:643px;height:1px;background:#6c6c6c"></div>
<div class="a" style="left:79px;top:801px;width:643px;height:1px;background:#8c8c8c"></div>
<div class="a" style="left:79px;top:824px;width:643px;height:1px;background:#8c8c8c"></div>
<div class="a" style="left:29px;top:843px;width:693px;height:1px;background:#6c6c6c"></div>
<div class="a" style="left:79px;top:897px;width:643px;height:1px;background:#6c6c6c"></div>
<div class="a" style="left:79px;top:916px;width:643px;height:1px;background:#8c8c8c"></div>
<div class="a" style="left:79px;top:933px;width:643px;height:1px;background:#b0b0b0"></div>
<div class="a" style="left:29px;top:952px;width:693px;height:1px;background:#6c6c6c"></div>
<div class="a" style="left:29px;top:982px;width:693px;height:1px;background:#6c6c6c"></div>
<div class="a" style="left:29px;top:397px;width:1px;height:586px;background:#707070"></div>
<div class="a" style="left:79px;top:397px;width:1px;height:586px;background:#707070"></div>
<div class="a" style="left:168px;top:397px;width:1px;height:586px;background:#707070"></div>
<div class="a" style="left:721px;top:397px;width:1px;height:586px;background:#707070"></div>
<div class="a" style="left:444px;top:397px;width:1px;height:23px;background:#707070"></div>
<div class="a" style="left:444px;top:419px;width:1px;height:19px;background:#707070"></div>
<div class="a" style="left:444px;top:528px;width:1px;height:20px;background:#707070"></div>
<div class="a" style="left:444px;top:547px;width:1px;height:19px;background:#707070"></div>
<div class="a" style="left:444px;top:601px;width:1px;height:19px;background:#707070"></div>
<div class="a" style="left:444px;top:619px;width:1px;height:19px;background:#707070"></div>
<div class="a" style="left:237px;top:656px;width:1px;height:19px;background:#707070"></div>
<div class="a" style="left:306px;top:656px;width:1px;height:19px;background:#707070"></div>
<div class="a" style="left:375px;top:656px;width:1px;height:19px;background:#707070"></div>
<div class="a" style="left:444px;top:656px;width:1px;height:19px;background:#707070"></div>
<div class="a" style="left:513px;top:656px;width:1px;height:19px;background:#707070"></div>
<div class="a" style="left:583px;top:656px;width:1px;height:19px;background:#707070"></div>
<div class="a" style="left:652px;top:656px;width:1px;height:19px;background:#707070"></div>
<div class="a" style="left:237px;top:674px;width:1px;height:19px;background:#707070"></div>
<div class="a" style="left:306px;top:674px;width:1px;height:19px;background:#707070"></div>
<div class="a" style="left:375px;top:674px;width:1px;height:19px;background:#707070"></div>
<div class="a" style="left:444px;top:674px;width:1px;height:19px;background:#707070"></div>
<div class="a" style="left:513px;top:674px;width:1px;height:19px;background:#707070"></div>
<div class="a" style="left:583px;top:674px;width:1px;height:19px;background:#707070"></div>
<div class="a" style="left:652px;top:674px;width:1px;height:19px;background:#707070"></div>
<div class="a" style="left:237px;top:747px;width:1px;height:19px;background:#707070"></div>
<div class="a" style="left:306px;top:747px;width:1px;height:19px;background:#707070"></div>
<div class="a" style="left:375px;top:747px;width:1px;height:19px;background:#707070"></div>
<div class="a" style="left:444px;top:747px;width:1px;height:19px;background:#707070"></div>
<div class="a" style="left:513px;top:747px;width:1px;height:19px;background:#707070"></div>
<div class="a" style="left:583px;top:747px;width:1px;height:19px;background:#707070"></div>
<div class="a" style="left:652px;top:747px;width:1px;height:19px;background:#707070"></div>
<div class="a" style="left:237px;top:765px;width:1px;height:19px;background:#707070"></div>
<div class="a" style="left:306px;top:765px;width:1px;height:19px;background:#707070"></div>
<div class="a" style="left:375px;top:765px;width:1px;height:19px;background:#707070"></div>
<div class="a" style="left:444px;top:765px;width:1px;height:19px;background:#707070"></div>
<div class="a" style="left:513px;top:765px;width:1px;height:19px;background:#707070"></div>
<div class="a" style="left:583px;top:765px;width:1px;height:19px;background:#707070"></div>
<div class="a" style="left:652px;top:765px;width:1px;height:19px;background:#707070"></div>
<div class="a" style="left:444px;top:692px;width:1px;height:19px;background:#707070"></div>
<div class="a" style="left:444px;top:710px;width:1px;height:19px;background:#707070"></div>
<div class="a" style="left:444px;top:728px;width:1px;height:20px;background:#707070"></div>
<div class="a" style="left:444px;top:783px;width:1px;height:19px;background:#707070"></div>
<div class="a" style="left:444px;top:801px;width:1px;height:24px;background:#707070"></div>
<div class="a" style="left:444px;top:824px;width:1px;height:20px;background:#707070"></div>
<div class="a" style="left:444px;top:843px;width:1px;height:19px;background:#707070"></div>
<div class="a" style="left:444px;top:861px;width:1px;height:19px;background:#707070"></div>
<div class="a" style="left:444px;top:879px;width:1px;height:19px;background:#707070"></div>
<div class="a" style="left:444px;top:897px;width:1px;height:20px;background:#707070"></div>
<div class="a" style="left:444px;top:916px;width:1px;height:18px;background:#707070"></div>
<div class="a" style="left:444px;top:933px;width:1px;height:20px;background:#707070"></div>
<div class="a" style="left:444px;top:952px;width:1px;height:31px;background:#707070"></div>
<div class="a c" style="left:29px;top:399px;width:50px;font-size:11px;line-height:11px">规格</div>
<div class="a c" style="left:29px;top:411px;width:50px;font-size:7.5px;line-height:7.5px">specification</div>
<div class="a c" style="left:165px;top:399.2px;width:276px;height:22px;line-height:22px;font-size:9.2px;letter-spacing:-0.22px;">SE130TM24X4__I0100RP005A010D-Z</div>
<div class="a c" style="left:445.5px;top:399.2px;width:277px;height:22px;line-height:22px;font-size:9.2px;letter-spacing:-0.22px;">SE130TM03X3__I0100RP005A010D-Z</div>
<div class="a" style="left:82px;top:421px;line-height:18px;font-size:9px">电机</div>
<div class="a" style="left:102.3px;top:427.2px;line-height:7px;font-size:7px;letter-spacing:0px">Motor</div>
<div class="a" style="left:82px;top:439px;line-height:18px;font-size:9px">驱动</div>
<div class="a" style="left:102.3px;top:445.2px;line-height:7px;font-size:7px;letter-spacing:0px">Drive</div>
<div class="a" style="left:82px;top:458px;line-height:18px;font-size:9px">反馈</div>
<div class="a" style="left:102.3px;top:464.2px;line-height:7px;font-size:7px;letter-spacing:0px">Feedback</div>
<div class="a" style="left:82px;top:476px;line-height:18px;font-size:9px">导轨</div>
<div class="a" style="left:102.3px;top:482.2px;line-height:7px;font-size:7px;letter-spacing:0px">Guide</div>
<div class="a" style="left:82px;top:494px;line-height:18px;font-size:9px">光电开关</div>
<div class="a" style="left:120.6px;top:496.1px;line-height:6.6px;font-size:6.8px;letter-spacing:0px">Photoelectric<br>switch</div>
<div class="a" style="left:82px;top:512px;line-height:18px;font-size:9px">拖链</div>
<div class="a" style="left:102.3px;top:518.2px;line-height:7px;font-size:7px;letter-spacing:0px">Drag chain</div>
<div class="a" style="left:82px;top:530px;line-height:18px;font-size:9px">连续推力</div>
<div class="a" style="left:117.3px;top:532.1px;line-height:6.6px;font-size:6.8px;letter-spacing:-0.25px">Continuous force<br>(N)</div>
<div class="a" style="left:82px;top:549px;line-height:18px;font-size:9px">峰值推力</div>
<div class="a" style="left:118.8px;top:555.2px;line-height:6.8px;font-size:6.8px;letter-spacing:0px">Peak force(N)</div>
<div class="a" style="left:82px;top:567px;line-height:18px;font-size:9px">定位精度</div>
<div class="a" style="left:118.8px;top:573.2px;line-height:6.8px;font-size:6.8px;letter-spacing:0px">Accuarcy(um)</div>
<div class="a" style="left:82px;top:585px;line-height:18px;font-size:9px">重复精度</div>
<div class="a" style="left:120.6px;top:587.1px;line-height:6.6px;font-size:6.8px;letter-spacing:0px">Repeatability<br>(um)</div>
<div class="a" style="left:82px;top:603px;line-height:18px;font-size:9px">负载</div>
<div class="a" style="left:103.5px;top:609.2px;line-height:7px;font-size:7px;letter-spacing:0px">Load</div>
<div class="a" style="left:82px;top:621px;line-height:18px;font-size:9px">模组重量</div>
<div class="a" style="left:120.6px;top:627.2px;line-height:6.8px;font-size:6.8px;letter-spacing:0px">Weight(Kg)</div>
<div class="a" style="left:82px;top:639px;line-height:18px;font-size:9px">安装方式</div>
<div class="a" style="left:120.6px;top:641.1px;line-height:6.6px;font-size:6.8px;letter-spacing:-0.2px">Installation<br>method</div>
<div class="a c" style="left:79px;top:657.6px;width:89px;height:18px;line-height:18px;font-size:9.5px;letter-spacing:0px;">TL(mm)</div>
<div class="a c" style="left:79px;top:675.6px;width:89px;height:18px;line-height:18px;font-size:9.5px;letter-spacing:0px;">L(mm)</div>
<div class="a c" style="left:79px;top:693.6px;width:89px;height:18px;line-height:18px;font-size:9.5px;letter-spacing:0px;">W(mm)</div>
<div class="a c" style="left:79px;top:711.6px;width:89px;height:18px;line-height:18px;font-size:9.5px;letter-spacing:0px;">H(mm)</div>
<div class="a c" style="left:79px;top:729.6px;width:89px;height:18px;line-height:18px;font-size:9.5px;letter-spacing:0px;">E(mm)</div>
<div class="a c" style="left:79px;top:748.6px;width:89px;height:18px;line-height:18px;font-size:9.5px;letter-spacing:0px;">F(mm)</div>
<div class="a c" style="left:79px;top:766.6px;width:89px;height:18px;line-height:18px;font-size:9.5px;letter-spacing:0px;">G(mm)</div>
<div class="a c" style="left:79px;top:784.6px;width:89px;height:18px;line-height:18px;font-size:9.5px;letter-spacing:0px;">K(mm)</div>
<div class="a c" style="left:79px;top:801px;width:89px;height:23px;line-height:23px;font-size:9.5px;letter-spacing:0px;">I(mm)</div>
<div class="a c" style="left:79px;top:825.6px;width:89px;height:18px;line-height:18px;font-size:9.5px;letter-spacing:0px;">Z(mm)</div>
<div class="a c" style="left:79px;top:844.6px;width:89px;height:18px;line-height:18px;font-size:9.5px;letter-spacing:0px;">A(mm)</div>
<div class="a c" style="left:79px;top:862.6px;width:89px;height:18px;line-height:18px;font-size:9.5px;letter-spacing:0px;">J(mm)</div>
<div class="a c" style="left:79px;top:880.6px;width:89px;height:18px;line-height:18px;font-size:9.5px;letter-spacing:0px;">D(mm)</div>
<div class="a c" style="left:79px;top:898.6px;width:89px;height:18px;line-height:18px;font-size:9.5px;letter-spacing:0px;">S(mm)</div>
<div class="a c" style="left:79px;top:917.6px;width:89px;height:18px;line-height:18px;font-size:9.5px;letter-spacing:0px;">P(mm)</div>
<div class="a c" style="left:79px;top:934.6px;width:89px;height:18px;line-height:18px;font-size:9.5px;letter-spacing:0px;">R(mm)</div>
<div class="a c" style="left:79px;top:952px;width:89px;height:30px;line-height:30px;font-size:9.5px;letter-spacing:0px;">C(mm)</div>
<div class="a c" style="left:168px;top:421.8px;width:276px;height:18px;line-height:18px;font-size:10px;letter-spacing:-0.3px;">TM24X4</div>
<div class="a c" style="left:445.5px;top:421.8px;width:277px;height:18px;line-height:18px;font-size:10px;letter-spacing:-0.3px;">TM03X3</div>
<div class="a c" style="left:168px;top:439.0px;width:553px;height:18px;line-height:18px;font-size:10px;letter-spacing:-0.3px;">ELMO/高创/科尔摩根/松下&nbsp;&nbsp;ELMO/Servotronix/ Kollmorgen/Panasonic</div>
<div class="a c" style="left:161px;top:458.0px;width:553px;height:18px;line-height:18px;font-size:10px;letter-spacing:-0.3px;">雷尼绍/海德汉/MircoE&nbsp;&nbsp;Renishaw/Heidenhain/Mircoe</div>
<div class="a c" style="left:165.5px;top:476.0px;width:553px;height:18px;line-height:18px;font-size:10px;letter-spacing:0.1px;">THK/CPC/Hiwin</div>
<div class="a c" style="left:163.5px;top:494.0px;width:553px;height:18px;line-height:18px;font-size:10px;letter-spacing:-0.3px;">OMRON/松下</div>
<div class="a c" style="left:163px;top:512.0px;width:553px;height:18px;line-height:18px;font-size:10px;letter-spacing:-0.3px;">igus</div>
<div class="a c" style="left:168px;top:530.8px;width:276px;height:18px;line-height:18px;font-size:10px;letter-spacing:-0.3px;">14.3N</div>
<div class="a c" style="left:447px;top:530.8px;width:277px;height:18px;line-height:18px;font-size:10px;letter-spacing:-0.3px;">44.7N</div>
<div class="a c" style="left:168px;top:549.8px;width:276px;height:18px;line-height:18px;font-size:10px;letter-spacing:-0.3px;">78N</div>
<div class="a c" style="left:447px;top:549.8px;width:277px;height:18px;line-height:18px;font-size:10px;letter-spacing:-0.3px;">352N</div>
<div class="a c" style="left:170px;top:567.8px;width:553px;height:18px;line-height:18px;font-size:10px;letter-spacing:0.2px;">±1um/±2um/±5um/±10um</div>
<div class="a c" style="left:170px;top:585.8px;width:553px;height:18px;line-height:18px;font-size:10px;letter-spacing:0.05px;">±0.5um/±1um/±5um/±10um</div>
<div class="a c" style="left:168px;top:603.8px;width:276px;height:18px;line-height:18px;font-size:10px;letter-spacing:-0.3px;">1.5kg(1G,1m/s)</div>
<div class="a c" style="left:448px;top:603.8px;width:277px;height:18px;line-height:18px;font-size:10px;letter-spacing:-0.3px;">4.5kg(1G,1m/s)</div>
<div class="a c" style="left:168px;top:621.8px;width:276px;height:18px;line-height:18px;font-size:10px;letter-spacing:-0.3px;">1.65kg(50行程)</div>
<div class="a c" style="left:447.5px;top:621.8px;width:277px;height:18px;line-height:18px;font-size:10px;letter-spacing:-0.3px;">2.15kg(50行程)</div>
<div class="a c" style="left:152px;top:639.8px;width:553px;height:18px;line-height:18px;font-size:10px;letter-spacing:-0.3px;">竖直安装&nbsp;&nbsp;Vertical installation</div>
<div class="a c" style="left:168.5px;top:658.8px;width:69px;height:18px;line-height:18px;font-size:10px;letter-spacing:-0.3px;">20</div>
<div class="a c" style="left:237px;top:658.8px;width:69px;height:18px;line-height:18px;font-size:10px;letter-spacing:-0.3px;">30</div>
<div class="a c" style="left:306.5px;top:658.8px;width:69px;height:18px;line-height:18px;font-size:10px;letter-spacing:-0.3px;">40</div>
<div class="a c" style="left:375px;top:658.8px;width:69px;height:18px;line-height:18px;font-size:10px;letter-spacing:-0.3px;">50</div>
<div class="a c" style="left:448.5px;top:658.8px;width:69px;height:18px;line-height:18px;font-size:10px;letter-spacing:-0.3px;">20</div>
<div class="a c" style="left:513px;top:658.8px;width:70px;height:18px;line-height:18px;font-size:10px;letter-spacing:-0.3px;">30</div>
<div class="a c" style="left:583.5px;top:658.8px;width:69px;height:18px;line-height:18px;font-size:10px;letter-spacing:-0.3px;">40</div>
<div class="a c" style="left:653px;top:658.8px;width:69px;height:18px;line-height:18px;font-size:10px;letter-spacing:-0.3px;">50</div>
<div class="a c" style="left:168.5px;top:676.8px;width:69px;height:18px;line-height:18px;font-size:10px;letter-spacing:-0.3px;">130</div>
<div class="a c" style="left:237px;top:676.8px;width:69px;height:18px;line-height:18px;font-size:10px;letter-spacing:-0.3px;">140</div>
<div class="a c" style="left:306.5px;top:676.8px;width:69px;height:18px;line-height:18px;font-size:10px;letter-spacing:-0.3px;">150</div>
<div class="a c" style="left:375px;top:676.8px;width:69px;height:18px;line-height:18px;font-size:10px;letter-spacing:-0.3px;">160</div>
<div class="a c" style="left:448.5px;top:676.8px;width:69px;height:18px;line-height:18px;font-size:10px;letter-spacing:-0.3px;">130</div>
<div class="a c" style="left:513px;top:676.8px;width:70px;height:18px;line-height:18px;font-size:10px;letter-spacing:-0.3px;">140</div>
<div class="a c" style="left:583.5px;top:676.8px;width:69px;height:18px;line-height:18px;font-size:10px;letter-spacing:-0.3px;">150</div>
<div class="a c" style="left:653px;top:676.8px;width:69px;height:18px;line-height:18px;font-size:10px;letter-spacing:-0.3px;">160</div>
<div class="a c" style="left:168.5px;top:749.8px;width:69px;height:18px;line-height:18px;font-size:10px;letter-spacing:-0.3px;">60</div>
<div class="a c" style="left:237px;top:749.8px;width:69px;height:18px;line-height:18px;font-size:10px;letter-spacing:-0.3px;">70</div>
<div class="a c" style="left:306.5px;top:749.8px;width:69px;height:18px;line-height:18px;font-size:10px;letter-spacing:-0.3px;">80</div>
<div class="a c" style="left:375px;top:749.8px;width:69px;height:18px;line-height:18px;font-size:10px;letter-spacing:-0.3px;">90</div>
<div class="a c" style="left:448.5px;top:749.8px;width:69px;height:18px;line-height:18px;font-size:10px;letter-spacing:-0.3px;">60</div>
<div class="a c" style="left:513px;top:749.8px;width:70px;height:18px;line-height:18px;font-size:10px;letter-spacing:-0.3px;">70</div>
<div class="a c" style="left:583.5px;top:749.8px;width:69px;height:18px;line-height:18px;font-size:10px;letter-spacing:-0.3px;">80</div>
<div class="a c" style="left:653px;top:749.8px;width:69px;height:18px;line-height:18px;font-size:10px;letter-spacing:-0.3px;">90</div>
<div class="a c" style="left:168.5px;top:767.8px;width:69px;height:18px;line-height:18px;font-size:10px;letter-spacing:-0.3px;">100</div>
<div class="a c" style="left:237px;top:767.8px;width:69px;height:18px;line-height:18px;font-size:10px;letter-spacing:-0.3px;">110</div>
<div class="a c" style="left:306.5px;top:767.8px;width:69px;height:18px;line-height:18px;font-size:10px;letter-spacing:-0.3px;">120</div>
<div class="a c" style="left:375px;top:767.8px;width:69px;height:18px;line-height:18px;font-size:10px;letter-spacing:-0.3px;">130</div>
<div class="a c" style="left:448.5px;top:767.8px;width:69px;height:18px;line-height:18px;font-size:10px;letter-spacing:-0.3px;">100</div>
<div class="a c" style="left:513px;top:767.8px;width:70px;height:18px;line-height:18px;font-size:10px;letter-spacing:-0.3px;">110</div>
<div class="a c" style="left:583.5px;top:767.8px;width:69px;height:18px;line-height:18px;font-size:10px;letter-spacing:-0.3px;">120</div>
<div class="a c" style="left:653px;top:767.8px;width:69px;height:18px;line-height:18px;font-size:10px;letter-spacing:-0.3px;">130</div>
<div class="a c" style="left:166.5px;top:694.8px;width:276px;height:18px;line-height:18px;font-size:10px;letter-spacing:-0.3px;">91</div>
<div class="a c" style="left:447px;top:694.8px;width:277px;height:18px;line-height:18px;font-size:10px;letter-spacing:-0.3px;">100</div>
<div class="a c" style="left:166.5px;top:712.8px;width:276px;height:18px;line-height:18px;font-size:10px;letter-spacing:-0.3px;">49</div>
<div class="a c" style="left:447px;top:712.8px;width:277px;height:18px;line-height:18px;font-size:10px;letter-spacing:-0.3px;">60</div>
<div class="a c" style="left:166.5px;top:730.8px;width:276px;height:18px;line-height:18px;font-size:10px;letter-spacing:-0.3px;">15</div>
<div class="a c" style="left:447px;top:730.8px;width:277px;height:18px;line-height:18px;font-size:10px;letter-spacing:-0.3px;">15</div>
<div class="a c" style="left:166.5px;top:785.8px;width:276px;height:18px;line-height:18px;font-size:10px;letter-spacing:-0.3px;">61</div>
<div class="a c" style="left:447px;top:785.8px;width:277px;height:18px;line-height:18px;font-size:10px;letter-spacing:-0.3px;">70</div>
<div class="a c" style="left:166.5px;top:826.8px;width:276px;height:18px;line-height:18px;font-size:10px;letter-spacing:-0.3px;">2xΦ4H7<svg width="5" height="8" viewBox="0 0 5 8" style="vertical-align:-0.5px;margin:0 0.3px"><path d="M2.5,0.2V7.4M0.6,5.2L2.5,7.6L4.4,5.2" fill="none" stroke="#1e1e1e" stroke-width="0.85"/></svg>5</div>
<div class="a c" style="left:447px;top:826.8px;width:277px;height:18px;line-height:18px;font-size:10px;letter-spacing:-0.3px;">2xΦ4H7<svg width="5" height="8" viewBox="0 0 5 8" style="vertical-align:-0.5px;margin:0 0.3px"><path d="M2.5,0.2V7.4M0.6,5.2L2.5,7.6L4.4,5.2" fill="none" stroke="#1e1e1e" stroke-width="0.85"/></svg>5</div>
<div class="a c" style="left:166.5px;top:844.2px;width:276px;height:18px;line-height:18px;font-size:10px;letter-spacing:-0.3px;">59</div>
<div class="a c" style="left:447px;top:844.2px;width:277px;height:18px;line-height:18px;font-size:10px;letter-spacing:-0.3px;">59</div>
<div class="a c" style="left:166.5px;top:863.8px;width:276px;height:18px;line-height:18px;font-size:10px;letter-spacing:-0.3px;">92</div>
<div class="a c" style="left:447px;top:863.8px;width:277px;height:18px;line-height:18px;font-size:10px;letter-spacing:-0.3px;">101</div>
<div class="a c" style="left:166.5px;top:881.2px;width:276px;height:18px;line-height:18px;font-size:10px;letter-spacing:-0.3px;">75</div>
<div class="a c" style="left:447px;top:881.2px;width:277px;height:18px;line-height:18px;font-size:10px;letter-spacing:-0.3px;">75</div>
<div class="a c" style="left:166.5px;top:899.2px;width:276px;height:18px;line-height:18px;font-size:10px;letter-spacing:-0.3px;">52</div>
<div class="a c" style="left:447px;top:899.2px;width:277px;height:18px;line-height:18px;font-size:10px;letter-spacing:-0.3px;">62</div>
<div class="a c" style="left:166.5px;top:918.8px;width:276px;height:18px;line-height:18px;font-size:10px;letter-spacing:-0.3px;">2xΦ4H7<svg width="5" height="8" viewBox="0 0 5 8" style="vertical-align:-0.5px;margin:0 0.3px"><path d="M2.5,0.2V7.4M0.6,5.2L2.5,7.6L4.4,5.2" fill="none" stroke="#1e1e1e" stroke-width="0.85"/></svg>2</div>
<div class="a c" style="left:447px;top:918.8px;width:277px;height:18px;line-height:18px;font-size:10px;letter-spacing:-0.3px;">2xΦ4H7<svg width="5" height="8" viewBox="0 0 5 8" style="vertical-align:-0.5px;margin:0 0.3px"><path d="M2.5,0.2V7.4M0.6,5.2L2.5,7.6L4.4,5.2" fill="none" stroke="#1e1e1e" stroke-width="0.85"/></svg>2</div>
<div class="a c" style="left:166.5px;top:935.8px;width:276px;height:18px;line-height:18px;font-size:10px;letter-spacing:-0.3px;">4xM5<svg width="5" height="8" viewBox="0 0 5 8" style="vertical-align:-0.5px;margin:0 0.3px"><path d="M2.5,0.2V7.4M0.6,5.2L2.5,7.6L4.4,5.2" fill="none" stroke="#1e1e1e" stroke-width="0.85"/></svg>10</div>
<div class="a c" style="left:447px;top:935.8px;width:277px;height:18px;line-height:18px;font-size:10px;letter-spacing:-0.3px;">4xM5<svg width="5" height="8" viewBox="0 0 5 8" style="vertical-align:-0.5px;margin:0 0.3px"><path d="M2.5,0.2V7.4M0.6,5.2L2.5,7.6L4.4,5.2" fill="none" stroke="#1e1e1e" stroke-width="0.85"/></svg>10</div>
<div class="a c" style="left:166.5px;top:954.8px;width:276px;height:30px;line-height:30px;font-size:10px;letter-spacing:-0.3px;">19.2</div>
<div class="a c" style="left:447px;top:954.8px;width:277px;height:30px;line-height:30px;font-size:10px;letter-spacing:-0.3px;">19.2</div>
<div class="a c" style="left:166.5px;top:803px;width:276.0px;font-size:10px;line-height:11px;letter-spacing:-0.3px">4xΦ5.5THRU<br>Φ10x5.7DP</div>
<div class="a c" style="left:447px;top:803px;width:277px;font-size:10px;line-height:11px;letter-spacing:-0.3px">4xΦ5.5THRU<br>Φ10x5.7DP</div>
<div class="a" style="text-align:center;width:50px;left:29px;top:468.7px;font-size:10px;line-height:11px">配置</div>
<div class="a" style="text-align:center;width:50px;left:29px;top:479.7px;font-size:7.2px;line-height:8px">Configuration</div>
<div class="a" style="left:34px;top:579px;font-size:9.5px;line-height:12px">性能参数</div>
<div class="a" style="left:34px;top:591px;font-size:7px;line-height:8.5px">Performance</div>
<div class="a" style="left:34px;top:599.5px;font-size:7px;line-height:8.5px">parameter</div>
<div class="a" style="text-align:center;width:50px;left:29px;top:657px;font-size:9.5px;line-height:9.5px">有效行程</div>
<div class="a" style="text-align:center;width:50px;left:29px;top:666.5px;font-size:6.5px;line-height:6.5px">Effective travel</div>
<div class="a" style="text-align:center;width:50px;left:29px;top:695.5px;font-size:9.5px;line-height:11px">模组尺寸</div>
<div class="a" style="text-align:center;width:50px;left:29px;top:706.5px;font-size:6.9px;line-height:7.5px">Module size</div>
<div class="a" style="left:34px;top:770.5px;font-size:9.5px;line-height:11.5px">模组安装</div>
<div class="a" style="left:34px;top:782.0px;font-size:9.5px;line-height:12px">尺寸</div>
<div class="a" style="left:34px;top:794.0px;font-size:6.2px;line-height:8.5px">Module</div>
<div class="a" style="left:34px;top:802.5px;font-size:6.2px;line-height:8px">mounting size</div>
<div class="a" style="text-align:center;width:50px;left:29px;top:889.5px;font-size:9.5px;line-height:11px">滑块尺寸</div>
<div class="a" style="text-align:center;width:50px;left:29px;top:900.5px;font-size:7px;line-height:7.5px">Slider size</div>
<div class="a" style="text-align:center;width:50px;left:29px;top:958.5px;font-size:9px;line-height:10.5px"><span style="display:inline-block;transform-origin:0 0;transform:scaleX(0.83);margin-left:-2px;margin-right:-7px">极限位置尺寸</span></div>
<div class="a" style="text-align:center;width:50px;left:29px;top:969.0px;font-size:6.3px;line-height:7px">Limit position size</div>
<div class="a" style="left:748px;top:638px;width:52px;height:116px;background:#e0b42c"></div>
<div class="a" style="left:761.5px;top:644.5px;font-size:23px;line-height:24px;color:#fdf6dc;letter-spacing:1.4px">07</div>
<div class="a" style="left:757px;top:672.5px;width:12px;font-size:10.8px;line-height:11.25px;color:#fdf6dc;white-space:normal;text-align:center">直线电机模组</div>
<div class="a" style="left:790.5px;top:672px;transform-origin:0 0;transform:rotate(90deg);font-size:9px;line-height:9.7px;color:#fdf6dc"><span style="letter-spacing:0.75px">Liner Motor</span><br>Platform Catalog</div>

</body></html>
